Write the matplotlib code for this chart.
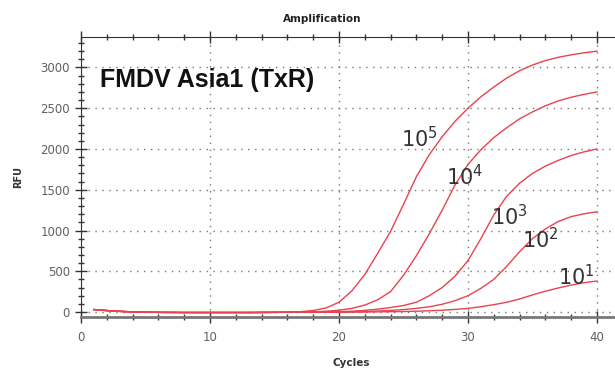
import numpy as np
import matplotlib
matplotlib.use('Agg')
import matplotlib.pyplot as plt
from matplotlib.ticker import MultipleLocator

plt.rcParams['font.family'] = ['DejaVu Sans']
plt.rcParams['mathtext.fontset'] = 'custom'
plt.rcParams['mathtext.rm'] = 'Open Sans'

cycles = np.arange(1, 41)

base = [30, 18, 8, 2, -2, -4, -5, -6, -6, -6, -6, -6, -6, -5, -4]

rfu_1e5 = base + [-2, 4, 18, 50, 120, 260, 460, 720, 990, 1320, 1660, 1930, 2150, 2340,
                  2500, 2640, 2760, 2870, 2960, 3030, 3085, 3125, 3155, 3180, 3200]
rfu_1e4 = base + [-3, -2, 2, 10, 22, 45, 85, 150, 250, 450, 690, 960, 1250, 1560,
                  1810, 1990, 2140, 2260, 2370, 2455, 2530, 2590, 2635, 2670, 2700]
rfu_1e3 = base + [-3, -3, -2, 0, 4, 10, 20, 35, 55, 80, 120, 200, 300, 440,
                  630, 900, 1190, 1420, 1580, 1700, 1790, 1860, 1920, 1965, 2000]
rfu_1e2 = base + [-3, -3, -3, -2, 0, 2, 6, 12, 20, 30, 45, 65, 95, 140,
                  200, 290, 400, 560, 740, 900, 1020, 1110, 1170, 1205, 1230]
rfu_1e1 = base + [-3, -3, -3, -3, -2, -1, 0, 2, 4, 6, 10, 15, 22, 32,
                  45, 65, 90, 120, 160, 210, 255, 295, 330, 360, 380]

series = [rfu_1e5, rfu_1e4, rfu_1e3, rfu_1e2, rfu_1e1]

# dilution tag text and its anchor (cycle, RFU)
tags = ['5', '4', '3', '2', '1']
tag_x = [24.8, 28.3, 31.8, 34.2, 37.0]
tag_y = [2020, 1550, 1070, 780, 330]

fig = plt.figure(figsize=(6.15, 3.74), dpi=100)
ax = fig.add_axes([81/615, 1 - 317/374, 1 - 81/615, 280/374])

for s in series:
    ax.plot(cycles, s, color='#e8434e', lw=1.0)

for t, x, y in zip(tags, tag_x, tag_y):
    ax.text(x, y, r'$\mathregular{10^{%s}}$' % t, fontsize=15, color='#333333',
            ha='left', va='baseline')

ax.set_xlim(0, 41.4)
ax.set_ylim(-61, 3374)

ax.xaxis.set_major_locator(MultipleLocator(10))
ax.xaxis.set_minor_locator(MultipleLocator(2))
ax.yaxis.set_major_locator(MultipleLocator(500))
ax.yaxis.set_minor_locator(MultipleLocator(100))

ax.tick_params(axis='both', which='major', direction='inout', length=8, width=1,
               colors='#333333', labelcolor='#606060', labelsize=8.5)
ax.tick_params(axis='both', which='minor', direction='inout', length=5, width=1,
               colors='#333333')
ax.tick_params(axis='y', which='major', pad=4)
ax.tick_params(axis='x', which='major', pad=6)
ax.tick_params(axis='x', which='both', top=True)

ax.grid(True, which='major', color='#777777', linestyle=(0, (1, 4)), lw=1.0)

ax.spines['right'].set_visible(False)
ax.spines['top'].set_color('#333333')
ax.spines['left'].set_color('#333333')
ax.spines['bottom'].set_color('#777777')
ax.spines['bottom'].set_linewidth(2)

fig.text(322/615, 1 - 22/374, 'Amplification', fontsize=7.5, fontweight='bold',
         color='#222222', ha='center', va='baseline')
fig.text(351/615, 1 - 366/374, 'Cycles', fontsize=7.5, fontweight='bold',
         color='#333333', ha='center', va='baseline')
fig.text(18/615, 1 - 177/374, 'RFU', fontsize=7, fontweight='bold',
         color='#333333', ha='center', va='center', rotation=90)
fig.text(100/615, 1 - 87/374, 'FMDV Asia1 (TxR)', fontsize=18, fontweight='bold',
         family='Liberation Sans', color='#111111', ha='left', va='baseline')

fig.savefig('out.png', dpi=100)
